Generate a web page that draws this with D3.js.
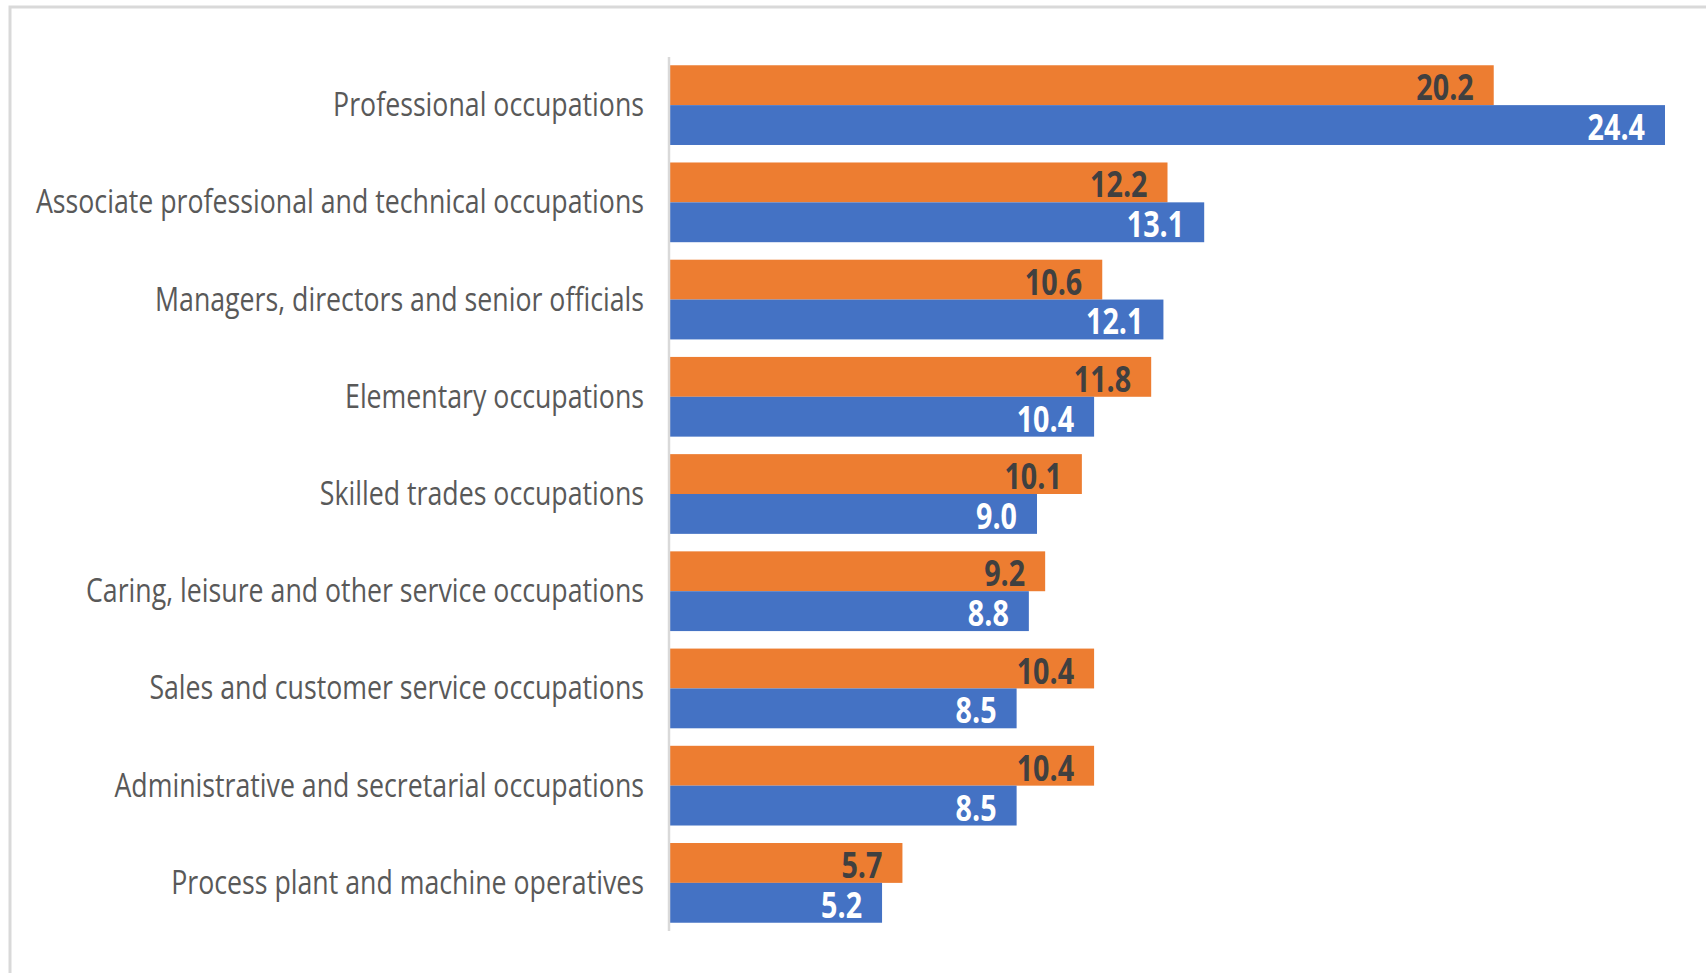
<!DOCTYPE html>
<html>
<head>
<meta charset="utf-8">
<script src="https://cdn.jsdelivr.net/npm/d3@7"></script>
<style>
  body { margin: 0; background: #fff; }
  svg { display: block; }
</style>
</head>
<body>
<svg id="chart"></svg>
<script>
// categories, top to bottom
let categories = [
  "Professional occupations",
  "Associate professional and technical occupations",
  "Managers, directors and senior officials",
  "Elementary occupations",
  "Skilled trades occupations",
  "Caring, leisure and other service occupations",
  "Sales and customer service occupations",
  "Administrative and secretarial occupations",
  "Process plant and machine operatives"
];
// first series (orange) and second series (blue)
let seriesA = [20.2, 12.2, 10.6, 11.8, 10.1, 9.2, 10.4, 10.4, 5.7];
let seriesB = [24.4, 13.1, 12.1, 10.4, 9.0, 8.8, 8.5, 8.5, 5.2];
let seriesKeys = ["a", "b"];

let width = 1706;
let height = 973;

let colors = { a: "#ED7D31", b: "#4472C4" };
let labelColors = { a: "#404040", b: "#ffffff" };

let rows = categories.map((c, i) => ({ name: c, a: seriesA[i], b: seriesB[i] }));

let svg = d3.select("#chart")
  .attr("width", width)
  .attr("height", height);

// chart frame (only top/left edges fall inside the picture)
svg.append("rect")
  .attr("x", 10)
  .attr("y", 7)
  .attr("width", width + 20)
  .attr("height", height + 20)
  .attr("fill", "none")
  .attr("stroke", "#d9d9d9")
  .attr("stroke-width", 3);

let x0 = 670;
let x = d3.scaleLinear()
  .domain([0, 24.4])
  .range([x0, 1665]);

let y = d3.scaleBand()
  .domain(categories)
  .range([57, 931])
  .paddingInner(0.18)
  .paddingOuter(0.085);

let ySub = d3.scaleBand()
  .domain(seriesKeys)
  .range([0, y.bandwidth()]);

let groups = svg.append("g")
  .attr("class", "groups")
  .selectAll("g")
  .data(rows)
  .enter()
  .append("g")
  .attr("transform", d => `translate(0,${y(d.name)})`);

groups.selectAll("rect")
  .data(d => seriesKeys.map(k => ({ key: k, value: d[k] })))
  .enter()
  .append("rect")
  .attr("x", x(0))
  .attr("y", d => ySub(d.key))
  .attr("width", d => x(d.value) - x(0))
  .attr("height", ySub.bandwidth())
  .attr("fill", d => colors[d.key]);

// value labels, inside end of bar
let valScale = 0.82;
groups.selectAll("text.val")
  .data(d => seriesKeys.map(k => ({ key: k, value: d[k] })))
  .enter()
  .append("text")
  .attr("class", "val")
  .attr("transform", d =>
    `translate(${x(d.value) - 20},${ySub(d.key) + ySub.bandwidth() / 2 + 15}) scale(${valScale},1)`)
  .attr("text-anchor", "end")
  .style("font-family", "'Open Sans', sans-serif")
  .style("font-weight", "bold")
  .style("font-size", "35px")
  .attr("fill", d => labelColors[d.key])
  .text(d => d3.format(".1f")(d.value));

// category axis line
svg.append("line")
  .attr("x1", x0 - 1)
  .attr("x2", x0 - 1)
  .attr("y1", y.range()[0])
  .attr("y2", y.range()[1])
  .attr("stroke", "#d9d9d9")
  .attr("stroke-width", 2.5);

// category labels
let catScale = 0.835;
svg.append("g")
  .attr("class", "cats")
  .selectAll("text")
  .data(categories)
  .enter()
  .append("text")
  .attr("transform", d =>
    `translate(${x0 - 26},${y(d) + y.bandwidth() / 2 + 11}) scale(${catScale},1)`)
  .attr("text-anchor", "end")
  .style("font-family", "'Open Sans', sans-serif")
  .style("font-size", "32px")
  .attr("fill", "#595959")
  .text(d => d);
</script>
</body>
</html>
